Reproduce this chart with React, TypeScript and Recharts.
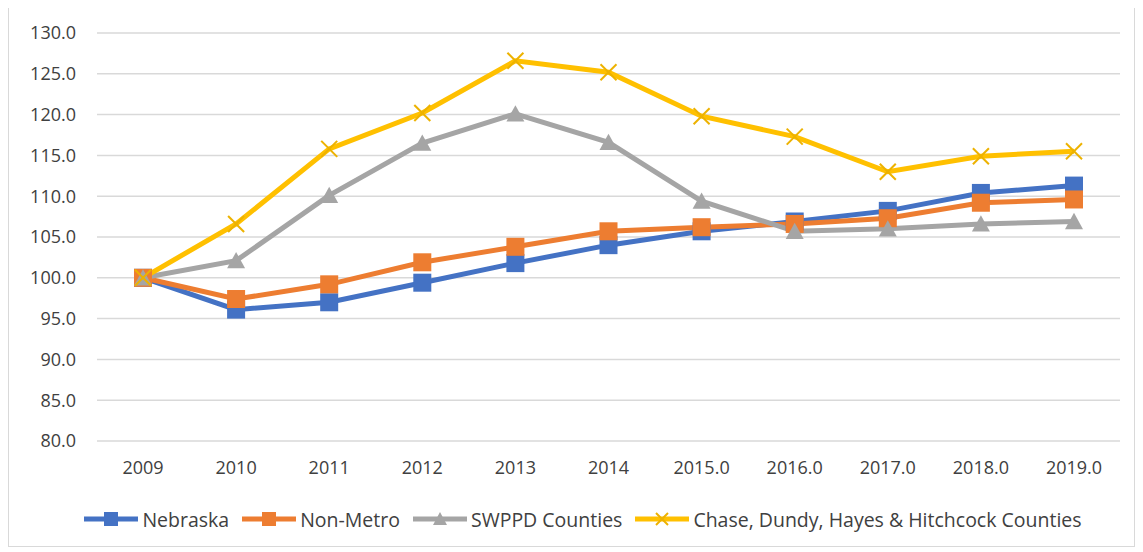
import React from 'react';
import { LineChart, Line, XAxis, YAxis, CartesianGrid, Legend } from 'recharts';

const years = ['2009', '2010', '2011', '2012', '2013', '2014', '2015.0', '2016.0', '2017.0', '2018.0', '2019.0'];
const nebraska = [100.0, 96.1, 97.0, 99.4, 101.8, 104.0, 105.7, 106.9, 108.2, 110.4, 111.3];
const nonMetro = [100.0, 97.4, 99.2, 101.9, 103.8, 105.7, 106.2, 106.6, 107.3, 109.2, 109.6];
const swppd = [100.0, 102.1, 110.1, 116.5, 120.1, 116.6, 109.4, 105.7, 106.0, 106.6, 106.9];
const chase = [100.0, 106.6, 115.8, 120.2, 126.6, 125.2, 119.8, 117.3, 113.0, 114.9, 115.5];
const yTicks = [80, 85, 90, 95, 100, 105, 110, 115, 120, 125, 130];

const FONT = '"Open Sans", sans-serif';

const series = [
  { key: 'nebraska', name: 'Nebraska', color: '#4472C4', marker: 'square' },
  { key: 'nonMetro', name: 'Non-Metro', color: '#ED7D31', marker: 'square' },
  { key: 'swppd', name: 'SWPPD Counties', color: '#A5A5A5', marker: 'triangle' },
  { key: 'chase', name: 'Chase, Dundy, Hayes & Hitchcock Counties', color: '#FFC000', marker: 'x' },
];

const data = years.map((year, i) => ({
  year,
  nebraska: nebraska[i],
  nonMetro: nonMetro[i],
  swppd: swppd[i],
  chase: chase[i],
}));

// marker shapes, Excel style
const drawMarker = (marker: string, color: string, cx: number, cy: number, s: number, key?: any) => {
  if (marker === 'square') {
    return <rect key={key} x={cx - s / 2} y={cy - s / 2} width={s} height={s} fill={color} />;
  }
  if (marker === 'triangle') {
    const h = s * 0.85;
    return (
      <polygon
        key={key}
        points={`${cx},${cy - h / 2 - 1} ${cx + s / 2},${cy + h / 2} ${cx - s / 2},${cy + h / 2}`}
        fill={color}
      />
    );
  }
  const d = s / 2;
  return (
    <g key={key}>
      <line x1={cx - d} y1={cy - d} x2={cx + d} y2={cy + d} stroke="#EDB200" strokeWidth={2} />
      <line x1={cx - d} y1={cy + d} x2={cx + d} y2={cy - d} stroke="#EDB200" strokeWidth={2} />
    </g>
  );
};

const makeDot = (marker: string, color: string) => (props: any) => {
  const { cx, cy, index } = props;
  return drawMarker(marker, color, cx, cy, marker === 'x' ? 16 : 18, `dot-${marker}-${color}-${index}`);
};

const renderLegend = () => (
  <div
    style={{
      display: 'flex',
      justifyContent: 'center',
      alignItems: 'center',
      height: 30,
      paddingLeft: 46,
      fontFamily: FONT,
      fontSize: 19.5,
      color: '#404040',
    }}
  >
    {series.map((s) => (
      <div key={s.key} style={{ display: 'flex', alignItems: 'center', marginRight: 11 }}>
        <svg width={58} height={24}>
          <line x1={2} y1={12} x2={56} y2={12} stroke={s.color} strokeWidth={5} />
          {drawMarker(s.marker, s.color, 29, 12, s.marker === 'x' ? 12 : 14)}
        </svg>
        <span style={{ marginLeft: 2 }}>{s.name}</span>
      </div>
    ))}
  </div>
);

const App: React.FC = () => {
  return (
    <div
      style={{
        width: 1125,
        height: 540,
        border: '1px solid #D9D9D9',
        marginTop: -3,
        background: '#fff',
      }}
    >
      <LineChart width={1125} height={540} data={data} margin={{ top: 27, right: 14, left: 0, bottom: 35 }}>
        <CartesianGrid vertical={false} stroke="#D9D9D9" strokeWidth={1.5} />
        <XAxis
          dataKey="year"
          axisLine={false}
          tickLine={false}
          height={40}
          tickSize={0}
          tickMargin={20}
          padding={{ left: 46, right: 46 }}
          tick={{ fontFamily: FONT, fontSize: 18, fill: '#404040' }}
        />
        <YAxis
          domain={[80, 130]}
          ticks={yTicks}
          width={88}
          axisLine={false}
          tickLine={false}
          tickSize={0}
          tickMargin={21}
          tickFormatter={(v: number) => v.toFixed(1)}
          tick={{ fontFamily: FONT, fontSize: 18, fill: '#404040' }}
        />
        <Legend verticalAlign="bottom" content={renderLegend} wrapperStyle={{ bottom: 12 }} />
        {series.map((s) => (
          <Line
            key={s.key}
            dataKey={s.key}
            name={s.name}
            stroke={s.color}
            strokeWidth={5}
            dot={makeDot(s.marker, s.color)}
            activeDot={false}
            isAnimationActive={false}
          />
        ))}
      </LineChart>
    </div>
  );
};

export default App;
